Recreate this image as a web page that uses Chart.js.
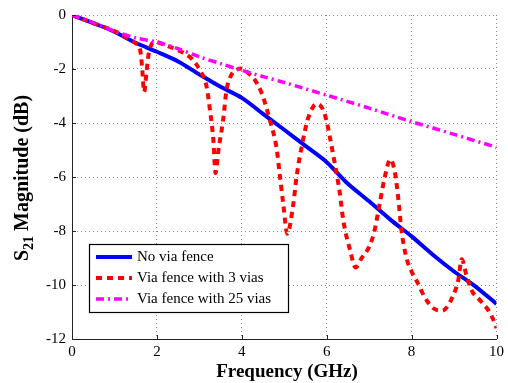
<!DOCTYPE html>
<html>
<head>
<meta charset="utf-8">
<script src="https://cdn.jsdelivr.net/npm/chart.js@4/dist/chart.umd.min.js"></script>
<style>
html,body{margin:0;padding:0;background:#fff;}
#wrap{width:508px;height:383px;}
</style>
</head>
<body>
<div id="wrap"><canvas id="c" width="508" height="383"></canvas></div>
<script>
// ---- data ----
const blueFreq = [0,0.5,1,1.5,2,2.5,3,3.5,4,4.5,5,5.5,6,6.5,7,7.5,8,8.5,9,9.5,10];
const blueDb   = [0,-0.3,-0.62,-1.03,-1.36,-1.72,-2.2,-2.66,-3.07,-3.66,-4.25,-4.85,-5.45,-6.25,-6.9,-7.58,-8.2,-8.88,-9.5,-10.05,-10.7];

const redFreq = [0,0.5,1.0,1.3,1.5,1.6,1.65,1.7,1.75,1.8,1.87,1.95,2.25,2.5,2.82,3.01,3.17,3.25,3.33,3.38,3.45,3.56,3.64,3.76,3.85,4.0,4.15,4.31,4.47,4.66,4.82,4.9,4.98,5.07,5.21,5.29,5.41,5.55,5.68,5.78,5.92,6.0,6.08,6.19,6.31,6.39,6.55,6.68,6.82,7.02,7.13,7.25,7.37,7.5,7.61,7.69,7.76,7.88,8.0,8.15,8.31,8.51,8.72,8.96,9.1,9.18,9.29,9.41,9.61,9.83,9.96,10];
const redDb   = [0,-0.3,-0.6,-0.85,-1.05,-1.25,-1.9,-2.85,-2.2,-1.5,-1.1,-1.0,-1.15,-1.3,-1.62,-2.04,-2.65,-3.52,-4.63,-5.85,-5.0,-3.89,-2.78,-2.2,-2.05,-1.98,-2.15,-2.41,-2.9,-3.89,-4.94,-5.99,-7.04,-8.1,-7.04,-5.99,-4.88,-3.89,-3.4,-3.3,-3.52,-3.95,-4.57,-5.49,-6.6,-7.6,-8.7,-9.35,-9.01,-8.52,-7.96,-6.97,-5.99,-5.35,-5.86,-6.85,-7.96,-9.0,-9.5,-9.94,-10.46,-10.86,-10.95,-10.46,-9.81,-9.05,-9.63,-10.19,-10.56,-10.99,-11.42,-11.6];

const magFreq = [0,0.5,1,1.5,2,2.5,3,3.5,4,4.5,5,6,7,8,9,10];
const magDb   = [0,-0.28,-0.6,-0.85,-1.0,-1.25,-1.55,-1.8,-2.05,-2.28,-2.5,-2.97,-3.45,-3.95,-4.42,-4.9];

const seriesLabels = ['No via fence','Via fence with 3 vias','Via fence with 25 vias'];
const xTicks = [0,2,4,6,8,10];
const yTicks = [0,-2,-4,-6,-8,-10,-12];
const xTitle = 'Frequency (GHz)';
const yTitleMain = 'S';
const yTitleSub = '21';
const yTitleRest = ' Magnitude (dB)';

const pts = (xs, ys) => xs.map((x,i)=>({x:x, y:ys[i]}));
const SERIF = '"Liberation Serif","Times New Roman",serif';

const decorPlugin = {
  id:'decor',
  afterDraw(chart){
    const ctx = chart.ctx;
    const xs = chart.scales.x, ys = chart.scales.y;
    const ca = chart.chartArea;
    ctx.save();
    // inward tick marks
    ctx.strokeStyle='#222'; ctx.lineWidth=1; ctx.setLineDash([]);
    xTicks.forEach(v=>{
      const px = Math.round(xs.getPixelForValue(v))+0.5;
      ctx.beginPath(); ctx.moveTo(px, ca.bottom); ctx.lineTo(px, ca.bottom-4); ctx.stroke();
    });
    yTicks.forEach(v=>{
      const py = Math.round(ys.getPixelForValue(v))+0.5;
      ctx.beginPath(); ctx.moveTo(ca.left, py); ctx.lineTo(ca.left+4, py); ctx.stroke();
    });
    // legend
    const x0=89, y0=244, w=199, h=68;
    ctx.fillStyle='#fff';
    ctx.fillRect(x0,y0,w,h);
    ctx.strokeStyle='#000';
    ctx.lineWidth=1.2;
    ctx.strokeRect(x0+0.5,y0+0.5,w,h);
    chart.data.datasets.forEach((ds,i)=>{
      const yy = y0+13+i*21;
      ctx.beginPath();
      ctx.setLineDash(ds.borderDash||[]);
      ctx.lineWidth=ds.borderWidth;
      ctx.strokeStyle=ds.borderColor;
      ctx.moveTo(96,yy); ctx.lineTo(132,yy);
      ctx.stroke();
      ctx.setLineDash([]);
      ctx.fillStyle='#000';
      ctx.font='15px '+SERIF;
      ctx.textBaseline='middle';
      ctx.textAlign='left';
      ctx.fillText(ds.label,137,yy);
    });
    // x title
    ctx.fillStyle='#000';
    ctx.font='bold 19px '+SERIF;
    ctx.textAlign='center';
    ctx.textBaseline='alphabetic';
    ctx.fillText(xTitle, 287, 377);
    // y title
    ctx.save();
    ctx.translate(28, 178);
    ctx.rotate(-Math.PI/2);
    ctx.fillStyle='#000';
    ctx.textBaseline='alphabetic';
    const fMain='bold 20px '+SERIF, fSub='bold 14px '+SERIF;
    ctx.font=fMain; const w1=ctx.measureText(yTitleMain).width; const w3=ctx.measureText(yTitleRest).width;
    ctx.font=fSub; const w2=ctx.measureText(yTitleSub).width;
    let sx = -(w1+w2+w3)/2;
    ctx.font=fMain; ctx.textAlign='left';
    ctx.fillText(yTitleMain,sx,0); sx+=w1;
    ctx.font=fSub; ctx.fillText(yTitleSub,sx,5); sx+=w2;
    ctx.font=fMain; ctx.fillText(yTitleRest,sx,0);
    ctx.restore();
    ctx.restore();
  }
};

new Chart(document.getElementById('c'), {
  type:'line',
  data:{
    datasets:[
      {label:seriesLabels[0], data:pts(blueFreq,blueDb), borderColor:'#0000ff', borderWidth:4, pointRadius:0, tension:0.3, order:2, fill:false},
      {label:seriesLabels[1], data:pts(redFreq,redDb), borderColor:'#ff0000', borderWidth:4, borderDash:[6,5], pointRadius:0, cubicInterpolationMode:'monotone', order:1, fill:false},
      {label:seriesLabels[2], data:pts(magFreq,magDb), borderColor:'#ff00ff', borderWidth:3.5, borderDash:[8,4,2,4], pointRadius:0, tension:0.3, order:0, fill:false}
    ]
  },
  options:{
    responsive:false,
    animation:false,
    layout:{padding:{top:15,right:11,left:0,bottom:0}},
    plugins:{legend:{display:false}, tooltip:{enabled:false}},
    scales:{
      x:{
        type:'linear', min:0, max:10,
        afterBuildTicks(s){ s.ticks = xTicks.map(v=>({value:v})); },
        afterFit(s){ s.height = 44; },
        ticks:{ color:'#000', font:{family:SERIF,size:15}, padding:4, maxRotation:0 },
        grid:{ color:'#888', lineWidth:1, drawTicks:false },
        border:{ display:true, color:'#222', width:1, dash:[1,3] },
        title:{ display:false }
      },
      y:{
        type:'linear', min:-12, max:0,
        afterBuildTicks(s){ s.ticks = yTicks.map(v=>({value:v})); },
        afterFit(s){ s.width = 72; },
        ticks:{ color:'#000', font:{family:SERIF,size:15}, padding:6 },
        grid:{ color:'#888', lineWidth:1, drawTicks:false },
        border:{ display:true, color:'#222', width:1, dash:[1,3] }
      }
    }
  },
  plugins:[decorPlugin]
});
</script>
</body>
</html>
